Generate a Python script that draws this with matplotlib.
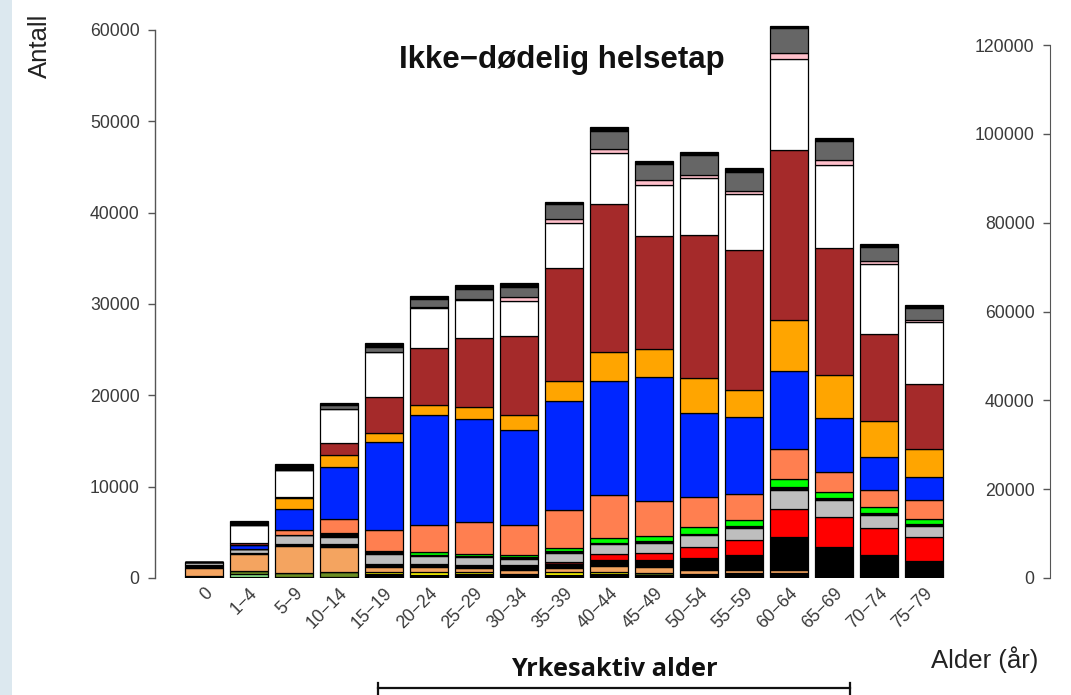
import matplotlib
matplotlib.use("Agg")
import matplotlib.pyplot as plt
from matplotlib.patches import Rectangle
from matplotlib.lines import Line2D
import numpy as np

plt.rcParams['font.family'] = ['Liberation Sans', 'DejaVu Sans']

age_groups = ["0", "1−4", "5−9", "10−14", "15−19", "20−24", "25−29", "30−34", "35−39",
              "40−44", "45−49", "50−54", "55−59", "60−64", "65−69", "70−74", "75−79"]

# stacked segments, bottom to top (one value per age group)
black_bottom = [190, 110, 110, 110, 440, 330, 400, 440, 330, 330, 300, 330, 550, 550, 330, 330, 330]
lightgreen   = [0, 380, 0, 0, 0, 0, 0, 0, 0, 0, 0, 0, 0, 0, 0, 0, 0]
olive        = [0, 270, 400, 500, 0, 0, 0, 0, 0, 160, 300, 110, 0, 0, 0, 0, 0]
yellow       = [0, 0, 0, 0, 220, 300, 250, 50, 310, 200, 0, 0, 0, 0, 0, 0, 0]
sandy        = [940, 1850, 3000, 2740, 490, 580, 420, 400, 470, 600, 550, 440, 300, 380, 0, 0, 0]
black_mid    = [300, 100, 220, 330, 330, 300, 370, 550, 400, 730, 830, 1280, 1640, 3590, 3070, 2190, 1570]
darkred      = [0, 0, 0, 0, 0, 0, 0, 0, 270, 0, 0, 0, 0, 0, 0, 0, 0]
red          = [0, 0, 0, 0, 0, 0, 0, 0, 0, 580, 730, 1200, 1640, 3030, 3290, 2920, 2630]
gray         = [360, 440, 990, 770, 1200, 950, 910, 620, 960, 1100, 1170, 1350, 1390, 2080, 1810, 1460, 1170]
black_upper  = [0, 0, 0, 440, 330, 110, 60, 220, 190, 140, 180, 110, 140, 300, 270, 190, 220]
lime         = [0, 0, 0, 0, 0, 280, 200, 220, 360, 590, 550, 730, 730, 880, 660, 640, 510]
coral        = [0, 0, 550, 1530, 2300, 2920, 3480, 3350, 4200, 4710, 3800, 3290, 2770, 3320, 2220, 1920, 2110]
blue         = [0, 500, 2300, 5690, 9610, 12120, 11320, 10340, 11860, 12410, 13580, 9230, 8430, 8540, 5880, 3580, 2520]
orange       = [0, 0, 1200, 1310, 990, 1100, 1350, 1640, 2190, 3180, 3070, 3780, 2960, 5580, 4710, 3920, 3030]
brown        = [0, 150, 100, 1310, 3940, 6200, 7560, 8680, 12410, 16210, 12410, 15710, 15330, 18620, 13870, 9580, 7150]
white        = [0, 2000, 3000, 3770, 4900, 4350, 4120, 3860, 4920, 5550, 5560, 6210, 6110, 9910, 9070, 7670, 6790]
pink         = [0, 0, 0, 0, 0, 100, 110, 370, 400, 470, 550, 360, 420, 710, 600, 330, 220]
darkgray     = [0, 0, 0, 440, 580, 880, 1060, 1160, 1680, 2000, 1750, 2190, 2080, 2700, 2110, 1500, 1310]
black_top    = [0, 470, 600, 220, 370, 360, 470, 370, 250, 370, 330, 360, 370, 250, 260, 330, 330]

left_ticks = [0, 10000, 20000, 30000, 40000, 50000, 60000]
right_ticks = [0, 20000, 40000, 60000, 80000, 100000, 120000]

series = [
    (black_bottom, "#000000"), (lightgreen, "#90EE90"), (olive, "#6B8E23"),
    (yellow, "#FFFF00"), (sandy, "#F4A460"), (black_mid, "#000000"),
    (darkred, "#8B1A1A"), (red, "#FF0000"), (gray, "#BEBEBE"),
    (black_upper, "#000000"), (lime, "#00FF00"), (coral, "#FF7F50"),
    (blue, "#0026FF"), (orange, "#FFA500"), (brown, "#A52A2A"),
    (white, "#FFFFFF"), (pink, "#FFC0CB"), (darkgray, "#666666"),
    (black_top, "#000000"),
]

W, H = 1071, 695
fig = plt.figure(figsize=(W / 100, H / 100), dpi=100)
fig.patch.set_facecolor("white")
fig.add_artist(Rectangle((0, 0), 12 / W, 1, transform=fig.transFigure,
                         facecolor="#dce8ef", edgecolor="none", zorder=0))

ax_left, ax_right = 155, 960
ax_bottom, ax_top = 578, 20
ax = fig.add_axes([ax_left / W, 1 - ax_bottom / H, (ax_right - ax_left) / W,
                   (ax_bottom - ax_top) / H])
ax.patch.set_alpha(0)

x = np.arange(len(age_groups))
bottom = np.zeros(len(age_groups))
for vals, col in series:
    v = np.array(vals, dtype=float)
    ax.bar(x, v, bottom=bottom, width=0.845, color=col, edgecolor="black",
           linewidth=0.9, zorder=2)
    bottom += v

px_per_val = 548 / 60000
ax.set_ylim(0, (ax_bottom - ax_top) / px_per_val)
ax.set_xlim(-(204 - ax_left) / 45, 16 + (ax_right - 924) / 45)

for s in ["top", "right", "bottom"]:
    ax.spines[s].set_visible(False)
ax.spines["left"].set_bounds(0, 60000)
ax.spines["left"].set_color("#555555")
ax.spines["left"].set_linewidth(1.0)
ax.set_yticks(left_ticks)
ax.set_yticklabels([str(t) for t in left_ticks])
ax.tick_params(axis="y", length=5, width=1, color="#555555", labelcolor="#3a3a3a",
               labelsize=12.7, pad=6)
ax.set_xticks(x)
ax.set_xticklabels(age_groups, rotation=45, ha="right", rotation_mode="anchor")
ax.tick_params(axis="x", length=0, labelcolor="#3a3a3a", labelsize=12.7, pad=5)

# right-hand scale
ax2 = fig.add_axes([1050 / W, 1 - ax_bottom / H, 0.001, (ax_bottom - ax_top) / H])
ax2.patch.set_alpha(0)
ax2.set_ylim(0, (ax_bottom - ax_top) * 120000 / 533)
for s in ["top", "right", "bottom"]:
    ax2.spines[s].set_visible(False)
ax2.spines["left"].set_bounds(0, 120000)
ax2.spines["left"].set_color("#555555")
ax2.set_xticks([])
ax2.set_yticks(right_ticks)
ax2.set_yticklabels([str(t) for t in right_ticks])
ax2.tick_params(axis="y", length=5, width=1, color="#555555", labelcolor="#3a3a3a",
                labelsize=12.7, pad=6)

fig.text(562 / W, 1 - 60 / H, "Ikke−dødelig helsetap", ha="center", va="center",
         fontsize=22.5, fontweight="bold", color="#111111")
fig.text(40 / W, 1 - 46 / H, "Antall", rotation=90, ha="center", va="center",
         fontsize=18.5, color="#222222")
fig.text(985 / W, 1 - 660 / H, "Alder (år)", ha="center", va="center",
         fontsize=18.5, color="#222222")
fig.text(614 / W, 1 - 669 / H, "Yrkesaktiv alder", ha="center", va="center",
         fontsize=18.3, fontweight="bold", color="#111111",
         family=["Open Sans", "DejaVu Sans"])

lw = 1.6
x0, x1, yb = 378, 850, 688
fig.add_artist(Line2D([x0 / W, x1 / W], [1 - yb / H, 1 - yb / H], transform=fig.transFigure,
                      color="#111111", linewidth=lw))
for xx in (x0, x1):
    fig.add_artist(Line2D([xx / W, xx / W], [1 - 683 / H, 1 - 695 / H],
                          transform=fig.transFigure, color="#111111", linewidth=lw))

fig.savefig("out.png", dpi=100)
